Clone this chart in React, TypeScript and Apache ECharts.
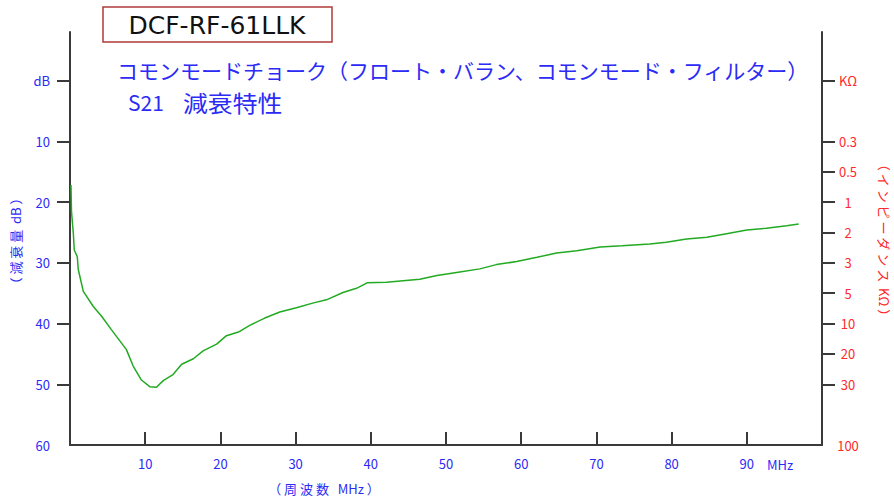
import React, { useEffect, useRef } from "react";
import * as echarts from "echarts";

const freqMHz = [0.13, 0.2, 0.44, 0.57, 0.97, 1.1, 1.77, 3.1, 4.2, 5.5, 6.65, 7.5, 8.4, 9.5, 10.6, 11.5, 12.4, 13.7, 14.85, 16.4, 17.7, 19.5, 20.8, 22.4, 23.9, 25.9, 27.9, 30.1, 32.4, 34.1, 36.3, 38.1, 39.5, 42.1, 44.3, 46.5, 48.8, 51.4, 54.5, 56.7, 59.4, 62.1, 64.7, 67.4, 70.5, 73.4, 77.1, 79.3, 82.0, 84.7, 87.3, 90, 92.6, 95.3, 96.9];
const attenDB = [17.2, 21.6, 25.1, 27.9, 29.0, 31.1, 34.7, 37.2, 38.8, 41.0, 42.9, 44.3, 47.0, 49.3, 50.4, 50.5, 49.4, 48.4, 46.7, 45.8, 44.5, 43.4, 42.0, 41.4, 40.3, 39.1, 38.1, 37.4, 36.6, 36.1, 34.9, 34.2, 33.3, 33.2, 32.95, 32.7, 32.1, 31.6, 31.0, 30.3, 29.8, 29.1, 28.4, 28.0, 27.4, 27.2, 26.9, 26.6, 26.1, 25.8, 25.2, 24.6, 24.3, 23.9, 23.6];

const leftTickValues = [0, 10, 20, 30, 40, 50];
const leftLabelValues = [0, 10, 20, 30, 40, 50, 60];
const leftLabels = ["dB", "10", "20", "30", "40", "50", "60"];

const rightTickValues = [0, 10, 15, 20, 25, 30, 35, 40, 45, 50];
const rightLabelValues = [0, 10, 15, 20, 25, 30, 35, 40, 45, 50, 60];
const rightLabels = ["KΩ", "0.3", "0.5", "1", "2", "3", "5", "10", "20", "30", "100"];

const xTickValues = [10, 20, 30, 40, 50, 60, 70, 80, 90];
const xLabels = ["10", "20", "30", "40", "50", "60", "70", "80", "90"];

const titleText = "DCF-RF-61LLK";
const subtitle1 = "コモンモードチョーク（フロート・バラン、コモンモード・フィルター）";
const subtitle2a = "S21";
const subtitle2b = "減衰特性";
const leftName = "（ 減 衰 量  dB ）";
const rightName = "（ イ ン ピ ー ダ ン ス  KΩ ）";
const xName = "（ 周 波 数   MHz ）";

const BLUE = "#2b2bf5";
const RED = "#ff2a2a";
const AXIS = "#3a3a3a";
const FONT = "'Noto Sans CJK JP', 'Noto Sans', sans-serif";

export default function App() {
  const ref = useRef<HTMLDivElement>(null);
  useEffect(() => {
    if (!ref.current) return;
    const chart = echarts.init(ref.current, undefined, { renderer: "svg" });
    const data = freqMHz.map((f, i) => [f, attenDB[i]]);
    chart.setOption({
      animation: false,
      backgroundColor: "#ffffff",
      grid: { left: 70, right: 72, top: 32, bottom: 52, containLabel: false },
      xAxis: {
        type: "value",
        min: 0,
        max: 100,
        interval: 10,
        axisLine: { show: true, onZero: false, lineStyle: { color: AXIS, width: 2 } },
        axisTick: { show: true, inside: true, length: 13, customValues: xTickValues, lineStyle: { color: AXIS, width: 2 } },
        axisLabel: {
          show: true,
          customValues: xTickValues,
          margin: 12,
          color: BLUE,
          fontSize: 13,
          fontFamily: FONT,
          formatter: (v: number) => xLabels[xTickValues.indexOf(v)] ?? "",
        },
        splitLine: { show: false },
      },
      yAxis: [
        {
          type: "value",
          min: -8,
          max: 60,
          inverse: true,
          position: "left",
          axisLine: { show: true, onZero: false, lineStyle: { color: AXIS, width: 2 } },
          axisTick: { show: true, inside: false, length: 13, customValues: leftTickValues, lineStyle: { color: AXIS, width: 2 } },
          axisLabel: {
            show: true,
            customValues: leftLabelValues,
            margin: 20,
            color: BLUE,
            fontSize: 13,
            fontFamily: FONT,
            formatter: (v: number) => leftLabels[leftLabelValues.indexOf(v)] ?? "",
          },
          splitLine: { show: false },
        },
        {
          type: "value",
          min: -8,
          max: 60,
          inverse: true,
          position: "right",
          axisLine: { show: true, onZero: false, lineStyle: { color: AXIS, width: 2 } },
          axisTick: { show: true, inside: false, length: 13, customValues: rightTickValues, lineStyle: { color: AXIS, width: 2 } },
          axisLabel: {
            show: true,
            customValues: rightLabelValues,
            margin: 26,
            align: "center",
            color: RED,
            fontSize: 13,
            fontFamily: FONT,
            formatter: (v: number) => rightLabels[rightLabelValues.indexOf(v)] ?? "",
          },
          splitLine: { show: false },
        },
      ],
      series: [
        {
          type: "line",
          data,
          yAxisIndex: 0,
          showSymbol: false,
          symbol: "none",
          lineStyle: { color: "#22aa22", width: 1.5 },
          silent: true,
        },
      ],
      graphic: [
        {
          type: "rect",
          shape: { x: 103, y: 7, width: 229, height: 35 },
          style: { fill: "#ffffff", stroke: "#b03a3a", lineWidth: 1.5 },
        },
        {
          type: "text",
          x: 217,
          y: 25,
          style: { text: titleText, fill: "#111111", fontSize: 25, fontFamily: "'DejaVu Sans', sans-serif", align: "center", verticalAlign: "middle" },
        },
        {
          type: "text",
          x: 117,
          y: 70,
          style: { text: subtitle1, fill: BLUE, fontSize: 21, fontFamily: FONT, align: "left", verticalAlign: "middle" },
        },
        {
          type: "text",
          x: 128,
          y: 102,
          style: { text: subtitle2a, fill: BLUE, fontSize: 21, fontFamily: FONT, align: "left", verticalAlign: "middle" },
        },
        {
          type: "text",
          x: 183,
          y: 102,
          scaleX: 1.08,
          style: { text: subtitle2b, fill: BLUE, fontSize: 23, fontFamily: FONT, align: "left", verticalAlign: "middle" },
        },
        {
          type: "text",
          x: 15,
          y: 241,
          rotation: Math.PI / 2,
          style: { text: leftName, fill: BLUE, fontSize: 13, fontFamily: FONT, align: "center", verticalAlign: "middle" },
        },
        {
          type: "text",
          x: 884,
          y: 240,
          rotation: -Math.PI / 2,
          style: { text: rightName, fill: RED, fontSize: 13, fontFamily: FONT, align: "center", verticalAlign: "middle" },
        },
        {
          type: "text",
          x: 780,
          y: 464,
          style: { text: "MHz", fill: BLUE, fontSize: 13, fontFamily: FONT, align: "center", verticalAlign: "middle" },
        },
        {
          type: "text",
          x: 324,
          y: 488,
          style: { text: xName, fill: BLUE, fontSize: 13, fontFamily: FONT, align: "center", verticalAlign: "middle" },
        },
      ],
    });
    return () => chart.dispose();
  }, []);
  return <div ref={ref} style={{ position: "fixed", left: 0, top: 0, width: 894, height: 497 }} />;
}
